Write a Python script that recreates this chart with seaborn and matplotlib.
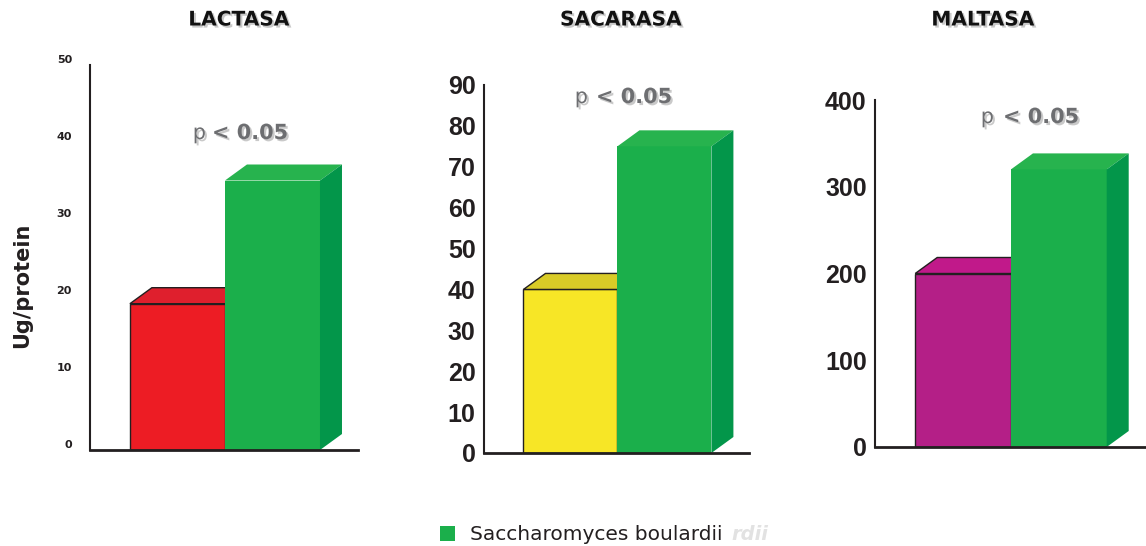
import numpy as np
import pandas as pd
import matplotlib
matplotlib.use("Agg")
import matplotlib.pyplot as plt
import matplotlib.patheffects as pe
from matplotlib.patches import Polygon, Patch
import seaborn as sns

# ---------------- data ----------------
panel_titles = ["LACTASA", "SACARASA", "MALTASA"]
groups = ["Control", "Saccharomyces boulardii"]
lactasa = [19, 35]
sacarasa = [40, 75]
maltasa = [200, 320]
yticks_lactasa = [0, 10, 20, 30, 40, 50]
yticks_sacarasa = [0, 10, 20, 30, 40, 50, 60, 70, 80, 90]
yticks_maltasa = [0, 100, 200, 300, 400]
p_text = ["p", "< 0.05"]
y_label = "Ug/protein"
legend_label = "Saccharomyces boulardii"
ghost_tail = "rdii"

# ---------------- style ----------------
sns.set_theme(style="white")
plt.rcParams["font.family"] = ["DejaVu Sans"]

W, H = 1146, 546
fig = plt.figure(figsize=(W / 100, H / 100), dpi=100)
fig.patch.set_facecolor("white")

def fx(x):
    return x / W

def fy(y):
    return 1 - y / H

dark = "#231F20"
green_front = "#1BAF4B"
green_top = "#27B34E"
green_side = "#03964A"

panels = [
    dict(vals=lactasa, ticks=yticks_lactasa, rect=(90, 358, 450, 65),
         front=["#ED1C24", green_front], top=["#DF1F2D", green_top],
         small=True, title_x=239, p_x=(206, 212), p_y=139),
    dict(vals=sacarasa, ticks=yticks_sacarasa, rect=(484, 749, 453, 85),
         front=["#F7E626", green_front], top=["#D9CB27", green_top],
         small=False, title_x=621, p_x=(588, 596), p_y=103),
    dict(vals=maltasa, ticks=yticks_maltasa, rect=(875, 1145, 447, 100),
         front=["#B41F87", green_front], top=["#C1198A", green_top],
         small=False, title_x=983, p_x=(994, 1003), p_y=123),
]

shadow = [pe.withSimplePatchShadow(offset=(1.5, -1.5), shadow_rgbFace="#888888", alpha=0.45)]

for i, p in enumerate(panels):
    x0, x1, yb, yt = p["rect"]
    ax = fig.add_axes([fx(x0), fy(yb), (x1 - x0) / W, (yb - yt) / H])
    ax.set_facecolor("none")
    df = pd.DataFrame({"group": groups, "value": p["vals"]})
    sns.barplot(data=df, x="group", y="value", hue="group", palette=p["front"],
                width=1.0, ax=ax, legend=False, saturation=1, dodge=False)
    ax.set_xlim(-0.92, 1.9)
    ax.set_ylim(0, p["ticks"][-1])

    # depth offsets in data units (22 px right, 16 px up)
    inv = ax.transData.inverted()
    o = inv.transform((0, 0))
    d = inv.transform((22, 16))
    ddx, ddy = d[0] - o[0], d[1] - o[1]

    bars = sorted(ax.patches, key=lambda r: r.get_x())
    for k, bar in enumerate(bars):
        bx0 = bar.get_x()
        bx1 = bx0 + bar.get_width()
        h = bar.get_height()
        z = 2 + 2 * k
        bar.set_zorder(z)
        if k == 0:
            bar.set_edgecolor(dark)
            bar.set_linewidth(1.0)
        else:
            bar.set_edgecolor("none")
            bar.set_linewidth(0)
        top = Polygon([(bx0, h), (bx1, h), (bx1 + ddx, h + ddy), (bx0 + ddx, h + ddy)],
                      closed=True, facecolor=p["top"][k],
                      edgecolor=dark if k == 0 else "none", linewidth=1.0 if k == 0 else 0,
                      zorder=z + 0.5, clip_on=False)
        side = Polygon([(bx1, 0), (bx1 + ddx, ddy), (bx1 + ddx, h + ddy), (bx1, h)],
                       closed=True, facecolor=green_side if k == 1 else p["top"][k],
                       edgecolor="none", zorder=z + 0.5, clip_on=False)
        ax.add_patch(top)
        ax.add_patch(side)

    sns.despine(ax=ax, top=True, right=True)
    ax.spines["left"].set_color(dark)
    ax.spines["left"].set_linewidth(1.5)
    ax.spines["bottom"].set_color(dark)
    ax.spines["bottom"].set_linewidth(2.0)
    ax.spines["left"].set_zorder(10)
    ax.spines["bottom"].set_zorder(10)

    ax.set_xticks([1.9])
    ax.set_xticklabels([""])
    ax.tick_params(axis="x", direction="in", length=5, width=1.5, color=dark)
    ax.set_yticks(p["ticks"])
    ax.set_yticklabels([str(t) for t in p["ticks"]])
    ax.set_xlabel("")
    ax.set_ylabel("")
    if p["small"]:
        ax.tick_params(axis="y", direction="in", length=5, width=1.2, color=dark,
                       pad=13, labelsize=8, labelcolor=dark)
        for t in ax.get_yticklabels():
            t.set_fontweight("bold")
            t.set_verticalalignment("bottom")
    else:
        ax.tick_params(axis="y", direction="out", length=5, width=1.2, color=dark,
                       pad=1, labelsize=18, labelcolor=dark)
        for t in ax.get_yticklabels():
            t.set_fontweight("bold")
            t.set_fontfamily("Liberation Sans")
    ax.grid(False)

    # title
    fig.text(fx(p["title_x"]), fy(20), panel_titles[i], ha="center", va="center",
             fontsize=14.5, fontweight="bold", color="#111111", path_effects=shadow)
    # p < 0.05
    fig.text(fx(p["p_x"][0]), fy(p["p_y"]), p_text[0], ha="right", va="baseline",
             fontsize=15, color="#6D6E71", path_effects=shadow)
    fig.text(fx(p["p_x"][1]), fy(p["p_y"]), p_text[1], ha="left", va="baseline",
             fontsize=15, fontweight="bold", color="#6D6E71", path_effects=shadow)

# y label
fig.text(fx(22), fy(285), y_label, rotation=90, ha="center", va="center",
         fontsize=15, fontweight="bold", color=dark)

# faint reflected tail of the legend text
fig.text(fx(768), fy(535), ghost_tail, ha="right", va="center", fontsize=14,
         fontstyle="italic", fontweight="bold", color="#E2E2E2", zorder=1)

# legend
fig.legend(handles=[Patch(facecolor=green_front, edgecolor="none")], labels=[legend_label],
           loc="center left", bbox_to_anchor=(fx(440), fy(535)), frameon=False,
           fontsize=14.5, handlelength=0.72, handleheight=0.72, handletextpad=0.75,
           borderaxespad=0, borderpad=0, labelcolor=dark)

fig.savefig("out.png", dpi=100, facecolor="white")
